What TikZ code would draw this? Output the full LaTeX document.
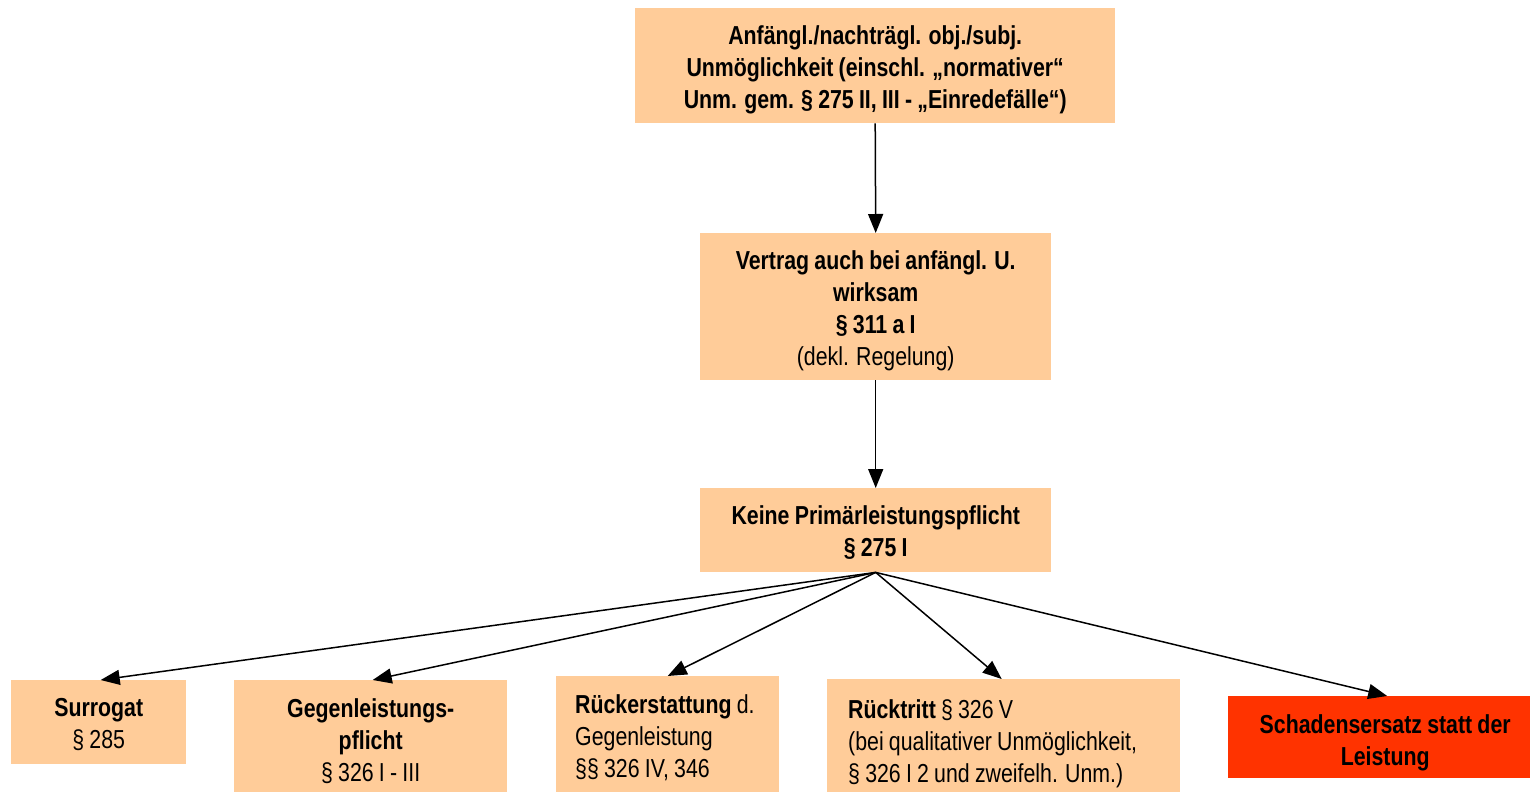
\documentclass[tikz,border=0pt]{standalone}
\usepackage{fontspec}
\setmainfont{Liberation Sans}[FakeStretch=0.82, WordSpace=0.88]
\usetikzlibrary{arrows.meta}
\definecolor{peach}{HTML}{FFCC99}
\definecolor{alertred}{HTML}{FF3300}
\begin{document}
\begin{tikzpicture}[x=1pt,y=-1pt,
  box/.style={fill=peach, draw=none, inner sep=0pt, anchor=north west},
  txt/.style={inner sep=0pt, align=center, font=\fontsize{26}{32}\selectfont},
  lefttxt/.style={txt, align=left, anchor=west},
  link/.style={line width=1.5pt, -{Triangle[length=19pt,width=15pt]}}]
\useasboundingbox (0,0) rectangle (1530,792);

% upper chain
\node[box, minimum width=480, minimum height=115] (imposs) at (635,8) {};
\node[txt] (imposs-t) at ([yshift=-4.5pt]imposs.center)
  {\textbf{Anfängl./nachträgl. obj./subj.}\\
   \textbf{Unmöglichkeit (einschl. „normativer“}\\
   \textbf{Unm. gem. § 275 II, III - „Einredefälle“)}};
\node[box, minimum width=351, minimum height=147] (contract) at (700,233) {};
\node[txt] (contract-t) at ([yshift=-4pt]contract.center)
  {\textbf{Vertrag auch bei anfängl. U.}\\
   \textbf{wirksam}\\
   \textbf{§ 311 a I}\\
   (dekl. Regelung)};
\node[box, minimum width=351, minimum height=84] (noduty) at (700,488) {};
\node[txt] (noduty-t) at ([yshift=-2pt]noduty.center)
  {\textbf{Keine Primärleistungspflicht}\\
   \textbf{§ 275 I}};

% consequences
\node[box, minimum width=175, minimum height=84] (surr) at (11,680) {};
\node[txt] (surr-t) at ([yshift=-2pt]surr.center)
  {\textbf{Surrogat}\\ § 285};
\node[box, minimum width=273, minimum height=112] (counter) at (234,680) {};
\node[txt] (counter-t) at ([yshift=-5pt]counter.center)
  {\textbf{Gegenleistungs-}\\ \textbf{pflicht}\\ § 326 I - III};
\node[box, minimum width=223, minimum height=116] (refund) at (556,676) {};
\node[lefttxt] (refund-t) at ([xshift=19pt,yshift=-4pt]refund.west)
  {\textbf{Rückerstattung} d.\\ Gegenleistung\\ §§ 326 IV, 346};
\node[box, minimum width=353, minimum height=113] (withdraw) at (827,679) {};
\node[lefttxt] (withdraw-t) at ([xshift=21pt,yshift=-8pt]withdraw.west)
  {\textbf{Rücktritt} § 326 V\\ (bei qualitativer Unmöglichkeit,\\ § 326 I 2 und zweifelh. Unm.)};
\node[box, fill=alertred, minimum width=302, minimum height=82] (damages) at (1228,696) {};
\node[txt] (damages-t) at ([xshift=6pt,yshift=-6pt]damages.center)
  {\textbf{Schadensersatz statt der}\\ \textbf{Leistung}};

% connectors
\draw[link] (imposs.south) -- (contract.north);
\draw[link] (contract.south) -- (noduty.north);
\draw[link] (noduty.south) -- ([xshift=2pt]surr.north);
\draw[link] (noduty.south) -- ([xshift=2pt]counter.north);
\draw[link] (noduty.south) -- (refund.north);
\draw[link] (noduty.south) -- ([xshift=-2pt]withdraw.north);
\draw[link] (noduty.south) -- ([xshift=8pt]damages.north);
\end{tikzpicture}
\end{document}
